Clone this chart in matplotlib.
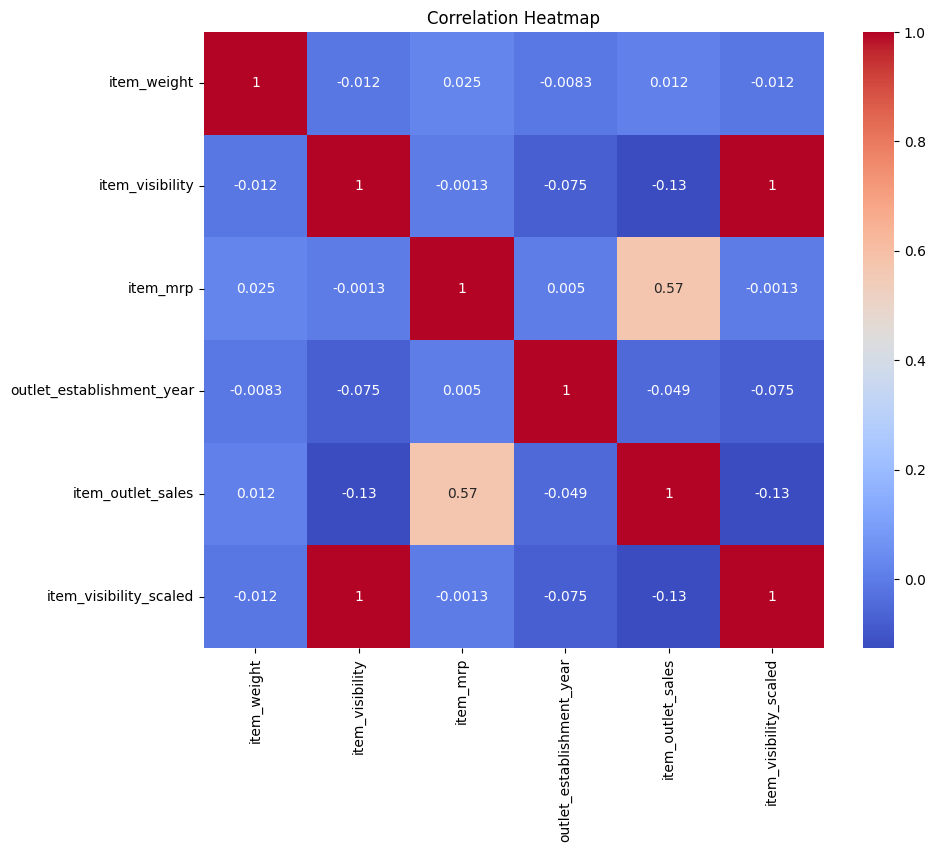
import matplotlib
matplotlib.use("Agg")
import matplotlib.pyplot as plt
import seaborn as sns
import numpy as np
import pandas as pd

cols = ["item_weight", "item_visibility", "item_mrp",
        "outlet_establishment_year", "item_outlet_sales", "item_visibility_scaled"]

r_weight = [1, -0.012, 0.025, -0.0083, 0.012, -0.012]
r_visibility = [-0.012, 1, -0.0013, -0.075, -0.13, 1]
r_mrp = [0.025, -0.0013, 1, 0.005, 0.57, -0.0013]
r_year = [-0.0083, -0.075, 0.005, 1, -0.049, -0.075]
r_sales = [0.012, -0.13, 0.57, -0.049, 1, -0.13]
r_scaled = [-0.012, 1, -0.0013, -0.075, -0.13, 1]

corr = pd.DataFrame([r_weight, r_visibility, r_mrp, r_year, r_sales, r_scaled],
                    index=cols, columns=cols)

fig = plt.figure(figsize=(9.35, 8.52), dpi=100)
ax = fig.add_axes([0.218, 0.2394, 0.663, 0.723])
cax = fig.add_axes([0.923, 0.2394, 0.0332, 0.723])

# werkelijke minimum ligt iets boven -0.13
sns.heatmap(corr, annot=True, cmap="coolwarm", vmin=-0.126, vmax=1, ax=ax, cbar_ax=cax)
ax.set_title("Correlation Heatmap")

plt.savefig("out.png", dpi=100)
